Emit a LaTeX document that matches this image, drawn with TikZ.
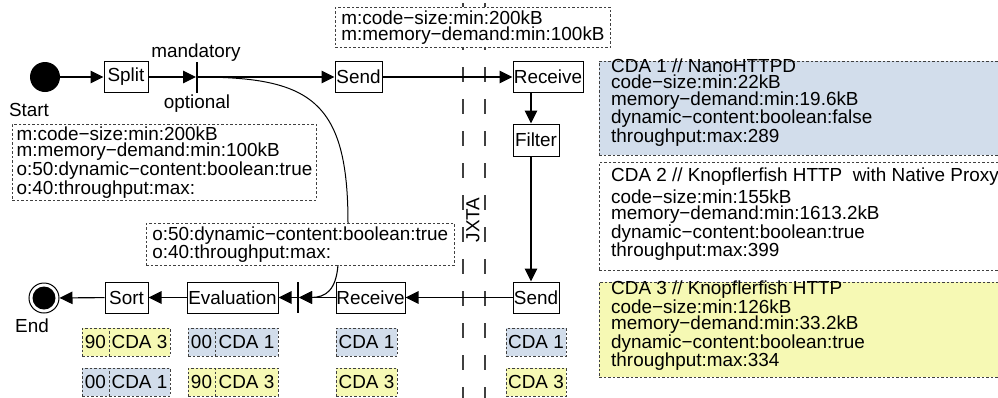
\documentclass[tikz,border=0pt]{standalone}
\usepackage{fontspec}
\setmainfont{Liberation Sans}
\usetikzlibrary{arrows.meta}
\definecolor{cdablue}{RGB}{210,221,235}
\definecolor{cdayellow}{RGB}{246,249,180}
\begin{document}
\begin{tikzpicture}[x=1pt,y=-1pt,
  every node/.style={font=\fontsize{18.9}{16.2}\selectfont, inner sep=0pt},
  act/.style={draw, line width=1pt, minimum height=31pt, fill=white},
  note/.style={draw=black!75, line width=0.9pt, dash pattern=on 2.5pt off 2pt, fill=white, align=left},
  tag/.style={note, minimum height=28pt, align=center},
  arr/.style={line width=1.1pt, -{Triangle[length=13pt,width=12.5pt]}},
  syncbar/.style={fill, minimum width=1.6pt, minimum height=31pt},
  jxline/.style={draw=black!75, line width=1.2pt, dash pattern=on 15pt off 17pt},
  flow/.style={line width=1pt},
]
\useasboundingbox (0,0) rectangle (998,397);

% JXTA boundary
\draw[jxline] (463,3) -- (463,400);
\draw[jxline] (485,3) -- (485,400);
\node[rotate=90] (jxta) at (473,220) {JXTA};

% activities
\node[circle, fill, minimum size=30pt] (start) at (45,77) {};
\node[anchor=base] (startlbl) at (29,116) {Start};
\node[act, minimum width=44pt] (split) at (126,77) {Split};
\node[syncbar] (fork) at (197,77) {};
\node[anchor=base] (mand) at (196,57) {mandatory};
\node[anchor=base] (opt) at (197,108) {optional};
\node[act, minimum width=47pt] (sendA) at (358.5,77) {Send};
\node[act, minimum width=70pt] (recvA) at (548,77) {Receive};
\node[act, minimum width=46pt, minimum height=32pt] (filter) at (536,140) {Filter};
\node[act, minimum width=46pt] (sendB) at (536,297.5) {Send};
\node[act, minimum width=69pt] (recvB) at (370.5,297.5) {Receive};
\node[syncbar] (join) at (298,297.5) {};
\node[act, minimum width=91pt] (eval) at (232.5,297.5) {Evaluation};
\node[act, minimum width=43pt] (sort) at (126.5,297.5) {Sort};
\node[circle, draw, line width=1pt, minimum size=30pt] (end) at (44,298) {};
\node[circle, fill, minimum size=23pt] (endin) at (end) {};
\node[anchor=base] (endlbl) at (32,332.5) {End};

% flow
\coordinate (ax) at (531,0);
\coordinate (cin) at (348,223);
\coordinate (cout) at (338,265);
\draw[arr] (start) -- (split);
\draw[arr] (split) -- (fork);
\draw[arr] (fork) -- (sendA);
\draw[arr] (sendA) -- (recvA);
\draw[arr] (recvA.south -| ax) -- (filter.north -| ax);
\draw[arr] (filter.south -| ax) -- (sendB.north -| ax);
\draw[arr] (sendB) -- (recvB);
\draw[arr] (recvB) -- (join);
\draw[arr] (join) -- (eval);
\draw[arr] (eval) -- (sort);
\draw[arr] (sort) -- (end);
\draw[flow] (fork.center) .. controls (310,77) and (348,100) .. (cin);
\draw[arr] (cout) .. controls (336,290) and (326,297.5) .. (311,297.5) -- (join.east);

% requirement notes
\node[note, anchor=north west, minimum width=304pt, minimum height=76pt, inner xsep=3pt] (reqA) at (12,124)
  {m:code−size:min:200kB\\m:memory−demand:min:100kB\\o:50:dynamic−content:boolean:true\\o:40:throughput:max:};
\node[note, anchor=north west, minimum width=302pt, minimum height=42pt, inner xsep=6pt] (reqB) at (146,223)
  {o:50:dynamic−content:boolean:true\\o:40:throughput:max:};
\node[note, anchor=north west, minimum width=272pt, minimum height=40pt, inner xsep=6pt] (reqC) at (335,7)
  {m:code−size:min:200kB\\m:memory−demand:min:100kB};

% candidate descriptions (text anchored at the baseline of the last line)
\node[note, fill=cdablue, anchor=north west, minimum width=420pt, minimum height=94pt] (cda1) at (599,61) {};
\node[note, anchor=north west, minimum width=420pt, minimum height=108pt] (cda2) at (599,162) {};
\node[note, fill=cdayellow, anchor=north west, minimum width=420pt, minimum height=95pt] (cda3) at (599,282) {};
\node[anchor=base west, align=left] (cda1t) at (611,142.3)
  {CDA 1 // NanoHTTPD\\code−size:min:22kB\\memory−demand:min:19.6kB\\dynamic−content:boolean:false\\throughput:max:289};
\node[anchor=base west, align=left] (cda2t) at (611,256.7)
  {CDA 2 // Knopflerfish HTTP\ \ with Native Proxy\\[3pt]code−size:min:155kB\\memory−demand:min:1613.2kB\\dynamic−content:boolean:true\\throughput:max:399};
\node[anchor=base west, align=left] (cda3t) at (611,366.7)
  {CDA 3 // Knopflerfish HTTP\\code−size:min:126kB\\memory−demand:min:33.2kB\\dynamic−content:boolean:true\\throughput:max:334};

% ranking tags
\node[tag, fill=cdayellow, minimum width=27pt] (s1a) at (95.5,342) {90};
\node[tag, fill=cdayellow, minimum width=61pt] (s1b) at (139.5,342) {CDA 3};
\node[tag, fill=cdablue, minimum width=27pt] (s2a) at (95.5,382) {00};
\node[tag, fill=cdablue, minimum width=61pt] (s2b) at (139.5,382) {CDA 1};
\node[tag, fill=cdablue, minimum width=27pt] (e1a) at (201.5,342) {00};
\node[tag, fill=cdablue, minimum width=63pt] (e1b) at (246.5,342) {CDA 1};
\node[tag, fill=cdayellow, minimum width=27pt] (e2a) at (201.5,382) {90};
\node[tag, fill=cdayellow, minimum width=63pt] (e2b) at (246.5,382) {CDA 3};
\node[tag, fill=cdablue, minimum width=61pt] (r1) at (366.5,342) {CDA 1};
\node[tag, fill=cdayellow, minimum width=61pt] (r2) at (366.5,382) {CDA 3};
\node[tag, fill=cdablue, minimum width=60pt] (n1) at (536,342) {CDA 1};
\node[tag, fill=cdayellow, minimum width=60pt] (n2) at (536,382) {CDA 3};
\end{tikzpicture}
\end{document}
